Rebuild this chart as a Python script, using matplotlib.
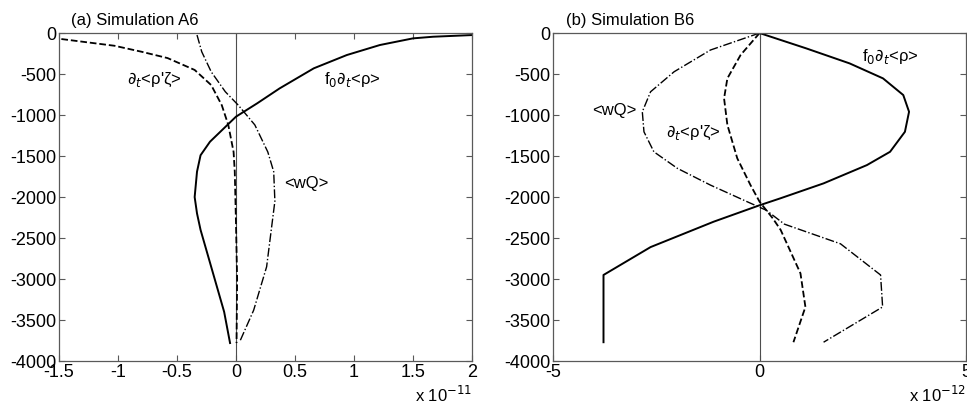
import matplotlib
matplotlib.use('Agg')
import matplotlib.pyplot as plt

plt.rcParams['font.family'] = ['Liberation Sans', 'DejaVu Sans']
plt.rcParams['axes.unicode_minus'] = False

# (a) Simulation A6, x values in units of 1e-11
a_f0_x = [2.01, 1.67, 1.5, 1.22, 0.94, 0.66, 0.37, 0.18, 0.0, -0.22, -0.3, -0.33, -0.35, -0.33, -0.3, -0.2, -0.1, -0.05]
a_f0_z = [-24, -45, -65, -146, -268, -430, -675, -857, -1020, -1325, -1490, -1690, -2000, -2200, -2400, -2900, -3400, -3780]

a_rz_x = [-1.48, -1.25, -1.03, -0.8, -0.58, -0.35, -0.21, -0.12, -0.065, -0.02, -0.01, 0.0, 0.01, 0.005]
a_rz_z = [-73, -115, -155, -228, -305, -450, -634, -880, -1120, -1450, -1690, -2300, -3000, -3780]

a_wq_x = [-0.33, -0.29, -0.21, -0.09, 0.02, 0.16, 0.27, 0.32, 0.33, 0.26, 0.15, 0.03]
a_wq_z = [-24, -228, -472, -716, -880, -1120, -1450, -1690, -2050, -2850, -3380, -3770]

# (b) Simulation B6, x values in units of 1e-12
b_f0_x = [0.0, 1.13, 2.18, 2.99, 3.48, 3.62, 3.52, 3.16, 2.6, 1.55, 0.5, 0.0, -1.11, -2.64, -3.78, -3.78]
b_f0_z = [0, -187, -370, -553, -756, -960, -1204, -1448, -1610, -1833, -2016, -2100, -2300, -2610, -2950, -3770]

b_rz_x = [0.0, -0.46, -0.78, -0.86, -0.78, -0.54, -0.22, 0.0, 0.32, 0.51, 0.99, 1.11, 0.82]
b_rz_z = [0, -268, -553, -797, -1120, -1528, -1854, -2057, -2260, -2400, -2930, -3340, -3770]

b_wq_x = [0.0, -1.19, -2.07, -2.64, -2.84, -2.8, -2.56, -1.99, -1.19, -0.3, 0.16, 0.6, 1.96, 2.93, 2.98, 1.55]
b_wq_z = [0, -207, -472, -716, -960, -1204, -1448, -1650, -1854, -2057, -2160, -2330, -2570, -2950, -3340, -3770]

fig = plt.figure(figsize=(9.67, 4.08), dpi=100)
ax1 = fig.add_axes([0.061, 0.115, 0.427, 0.804])
ax2 = fig.add_axes([0.572, 0.115, 0.427, 0.804])


def style(ax, xlim, xticks, title, expo):
    ax.set_xlim(xlim)
    ax.set_ylim(-4000, 0)
    ax.set_xticks(xticks)
    ax.set_yticks(range(-4000, 1, 500))
    ax.tick_params(direction='in', top=True, right=True, labelsize=13,
                   length=4, width=0.8, color='0.35', pad=2)
    for s in ax.spines.values():
        s.set_color('0.35')
        s.set_linewidth(0.9)
    ax.text(0.03, 1.025, title, transform=ax.transAxes, fontsize=12)
    ax.text(1.0, -0.125, 'x 10$^{%d}$' % expo, transform=ax.transAxes,
            ha='right', va='baseline', fontsize=12)
    ax.axvline(0, color='0.3', lw=0.8)


style(ax1, (-1.5, 2), [-1.5, -1, -0.5, 0, 0.5, 1, 1.5, 2], '(a) Simulation A6', -11)
ax1.set_xticklabels(['-1.5', '-1', '-0.5', '0', '0.5', '1', '1.5', '2'])
ax1.plot(a_f0_x, a_f0_z, 'k-', lw=1.4)
ax1.plot(a_rz_x, a_rz_z, 'k--', lw=1.3)
ax1.plot(a_wq_x, a_wq_z, 'k-.', lw=1.0)
ax1.text(-0.69, -570, r"$\partial_t$<ρ'ζ>", ha='center', va='center', fontsize=12)
ax1.text(0.99, -570, r"f$_0$$\partial_t$<ρ>", ha='center', va='center', fontsize=12)
ax1.text(0.6, -1830, '<wQ>', ha='center', va='center', fontsize=12)

style(ax2, (-5, 5), [-5, 0, 5], '(b) Simulation B6', -12)
ax2.plot(b_f0_x, b_f0_z, 'k-', lw=1.4)
ax2.plot(b_rz_x, b_rz_z, 'k--', lw=1.3)
ax2.plot(b_wq_x, b_wq_z, 'k-.', lw=1.0)
ax2.text(3.17, -290, r"f$_0$$\partial_t$<ρ>", ha='center', va='center', fontsize=12)
ax2.text(-3.53, -940, '<wQ>', ha='center', va='center', fontsize=12)
ax2.text(-1.6, -1220, r"$\partial_t$<ρ'ζ>", ha='center', va='center', fontsize=12)

fig.savefig('out.png', dpi=100)
